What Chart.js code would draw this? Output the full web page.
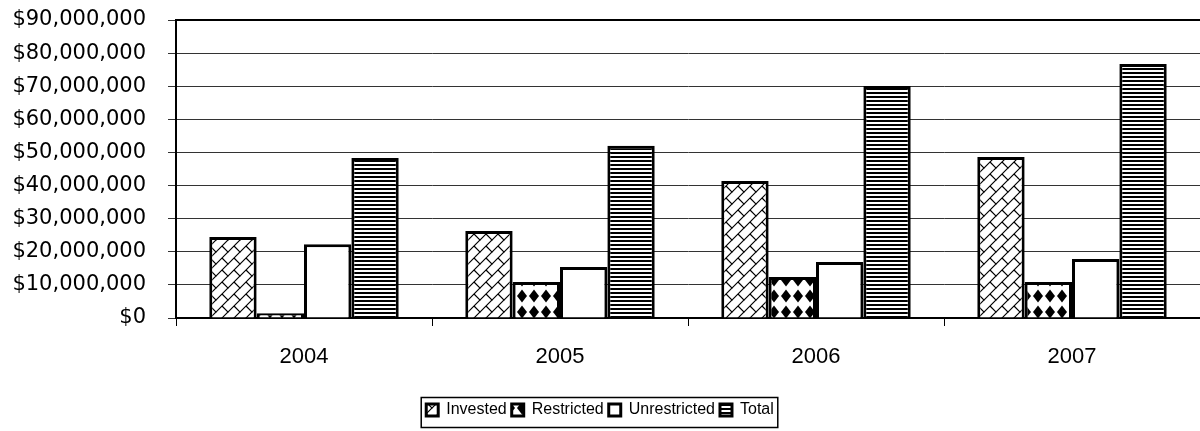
<!DOCTYPE html>
<html>
<head>
<meta charset="utf-8">
<script src="https://cdn.jsdelivr.net/npm/chart.js@4.4.1/dist/chart.umd.min.js"></script>
<style>
  html, body { margin: 0; padding: 0; background: #fff; overflow: hidden; }
  #wrap { width: 1200px; height: 431px; }
</style>
</head>
<body>
<div id="wrap"><canvas id="chart"></canvas></div>
<script>
const years = ['2004', '2005', '2006', '2007'];
const invested = [24500000, 26300000, 41400000, 48600000];
const restricted = [1400000, 10900000, 12400000, 10900000];
const unrestricted = [22300000, 15400000, 16900000, 17800000];
const total = [48300000, 52000000, 70100000, 76700000];

function makeTile(w, h, draw) {
  const c = document.createElement('canvas');
  c.width = w; c.height = h;
  const g = c.getContext('2d');
  g.fillStyle = '#fff';
  g.fillRect(0, 0, w, h);
  draw(g);
  return c.getContext('2d').createPattern(c, 'repeat');
}

// brick-like diagonal hatch
const hatch = makeTile(12, 12, g => {
  g.strokeStyle = '#000';
  g.lineWidth = 1.2;
  g.beginPath();
  g.moveTo(-2, 14); g.lineTo(14, -2);
  g.moveTo(6, 6); g.lineTo(12, 12);
  g.moveTo(0, 0); g.lineTo(0.5, 0.5);
  g.stroke();
});

// black diamonds
const diamonds = makeTile(12, 16, g => {
  g.fillStyle = '#000';
  g.beginPath();
  g.moveTo(6, 1.5); g.lineTo(11, 8); g.lineTo(6, 14.5); g.lineTo(1, 8);
  g.closePath();
  g.fill();
});

// horizontal stripes
const stripes = makeTile(4, 4, g => {
  g.fillStyle = '#000';
  g.fillRect(0, 0, 4, 2);
});

const legendFrame = {
  id: 'legendFrame',
  afterDraw(chart) {
    const boxes = chart.legend.legendHitBoxes;
    if (!boxes || !boxes.length) return;
    const left = Math.min(...boxes.map(b => b.left)) - 5;
    const right = Math.max(...boxes.map(b => b.left + b.width)) + 4;
    const ctx = chart.ctx;
    ctx.save();
    ctx.strokeStyle = '#000';
    ctx.lineWidth = 1.5;
    ctx.strokeRect(left, 397.5, right - left, 30);
    ctx.restore();
  }
};

const plotFrame = {
  id: 'plotFrame',
  afterDatasetsDraw(chart) {
    const a = chart.chartArea;
    const ctx = chart.ctx;
    ctx.save();
    ctx.strokeStyle = '#000';
    ctx.lineWidth = 2;
    ctx.beginPath();
    ctx.moveTo(a.left, a.top); ctx.lineTo(a.right, a.top);
    ctx.stroke();
    ctx.restore();
  }
};

const ds = (label, data, fill) => ({
  label: label,
  data: data,
  backgroundColor: fill,
  borderColor: '#000',
  borderWidth: 3,
  borderSkipped: 'bottom'
});

new Chart(document.getElementById('chart'), {
  type: 'bar',
  data: {
    labels: years,
    datasets: [
      ds('Invested', invested, hatch),
      ds('Restricted', restricted, diamonds),
      ds('Unrestricted', unrestricted, '#fff'),
      ds('Total', total, stripes)
    ]
  },
  plugins: [legendFrame, plotFrame],
  options: {
    responsive: true,
    maintainAspectRatio: false,
    animation: false,
    layout: { padding: { top: 20, right: 0, left: 0, bottom: 3 } },
    datasets: { bar: { categoryPercentage: 0.74, barPercentage: 1.0 } },
    scales: {
      x: {
        afterFit(scale) { scale.height = 79; },
        grid: { display: true, offset: true, color: '#000', drawOnChartArea: false, tickLength: 8 },
        border: { color: '#000', width: 2 },
        ticks: { color: '#000', font: { family: 'Liberation Sans', size: 22 }, padding: 18 }
      },
      y: {
        min: 0,
        max: 90000000,
        afterFit(scale) {
          scale.width = 176;
          scale.paddingTop = 10;
          scale.paddingBottom = 10;
        },
        ticks: {
          stepSize: 10000000,
          color: '#000',
          font: { family: 'DejaVu Sans', size: 21 },
          padding: 22,
          callback: v => '$' + v.toLocaleString('en-US')
        },
        grid: { color: '#333', lineWidth: 1, tickLength: 8 },
        border: { color: '#000', width: 2 }
      }
    },
    plugins: {
      legend: {
        position: 'bottom',
        labels: {
          color: '#000',
          font: { family: 'Liberation Sans', size: 16 },
          boxWidth: 12,
          boxHeight: 12,
          padding: 5
        }
      },
      tooltip: { enabled: false }
    }
  }
});
</script>
</body>
</html>
